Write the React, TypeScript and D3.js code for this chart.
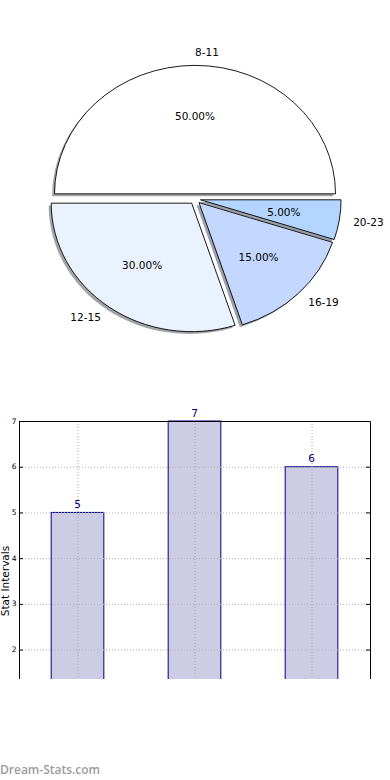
import React, { useEffect, useRef } from 'react';
import * as d3 from 'd3';

const pieLabels = ['8-11', '12-15', '16-19', '20-23'];
const pieValues = [50, 30, 15, 5];
const pieColors = ['#ffffff', '#eaf2ff', '#c4d8ff', '#b3d5ff'];
const pieExplode = [0.04, 0.04, 0.04, 0.04];

const barValues = [5, 7, 6];
const barTicks = [2, 3, 4, 5, 6, 7];

const W = 390;
const H = 780;
const FONT = 'DejaVu Sans, sans-serif';

const App = () => {
  const svgRef = useRef<SVGSVGElement>(null);

  useEffect(() => {
    if (!svgRef.current) return;
    const svg = d3.select(svgRef.current);
    svg.selectAll('*').remove();

    // ---- pie (elliptical, matplotlib style: ccw from 3 o'clock) ----
    const cx = 195, cy = 199, rx = 140.5, ry = 128.5;

    const pie = d3.pie<number>()
      .sort(null)
      .startAngle(Math.PI / 2)
      .endAngle(Math.PI / 2 - 2 * Math.PI);
    const arcs = pie(pieValues);
    const arc = d3.arc<d3.PieArcDatum<number>>().innerRadius(0).outerRadius(1);

    const wedges = arcs.map((a, i) => {
      const theta = Math.PI / 2 - (a.startAngle + a.endAngle) / 2;
      const dx = pieExplode[i] * rx * Math.cos(theta);
      const dy = -pieExplode[i] * ry * Math.sin(theta);
      return { a, i, theta, ox: cx + dx, oy: cy + dy };
    });

    const pieG = svg.append('g');

    // shadows first (below all wedges)
    wedges.forEach(w => {
      const c = d3.rgb(pieColors[w.i]);
      pieG.append('path')
        .attr('d', arc(w.a))
        .attr('transform', `translate(${w.ox - 2.5},${w.oy + 2.3}) scale(${rx},${ry})`)
        .attr('fill', d3.rgb(c.r * 0.3, c.g * 0.3, c.b * 0.3).toString())
        .attr('fill-opacity', 0.5)
        .attr('stroke', 'none');
    });

    wedges.forEach(w => {
      pieG.append('path')
        .attr('d', arc(w.a))
        .attr('transform', `translate(${w.ox},${w.oy}) scale(${rx},${ry})`)
        .attr('fill', pieColors[w.i])
        .attr('stroke', '#000')
        .attr('stroke-width', 0.9)
        .attr('stroke-linejoin', 'round')
        .attr('vector-effect', 'non-scaling-stroke');
    });

    const total = d3.sum(pieValues);
    wedges.forEach(w => {
      const c = Math.cos(w.theta), s = Math.sin(w.theta);
      pieG.append('text')
        .attr('x', w.ox + 1.1 * rx * c)
        .attr('y', w.oy - 1.1 * ry * s)
        .attr('dy', '0.35em')
        .attr('text-anchor', c > -1e-9 ? 'start' : 'end')
        .attr('font-family', FONT)
        .attr('font-size', 10.5)
        .attr('fill', '#000')
        .text(pieLabels[w.i]);
      pieG.append('text')
        .attr('x', w.ox + 0.6 * rx * c)
        .attr('y', w.oy - 0.6 * ry * s)
        .attr('dy', '0.35em')
        .attr('text-anchor', 'middle')
        .attr('font-family', FONT)
        .attr('font-size', 10.5)
        .attr('fill', '#000')
        .text(`${((pieValues[w.i] / total) * 100).toFixed(2)}%`);
    });

    // ---- bar chart ----
    const left = 19, right = 370, top = 421, bottom = 741, clipBottom = 679;
    const x = d3.scaleLinear().domain([-0.5, barValues.length - 0.5]).range([left, right]);
    const y = d3.scaleLinear().domain([0, 7]).range([bottom, top]);
    const barW = x(0.45) - x(0);

    svg.append('defs').append('clipPath')
      .attr('id', 'barclip')
      .append('rect')
      .attr('x', 0).attr('y', 380).attr('width', W).attr('height', clipBottom - 380);

    const g = svg.append('g').attr('clip-path', 'url(#barclip)');

    g.selectAll('rect.bar')
      .data(barValues)
      .join('rect')
      .attr('class', 'bar')
      .attr('x', (_, i) => x(i) - barW / 2)
      .attr('y', d => y(d))
      .attr('width', barW)
      .attr('height', d => y(0) - y(d))
      .attr('fill', '#cccce5')
      .attr('stroke', '#000080')
      .attr('stroke-width', 1);

    // grid
    g.selectAll('line.hgrid')
      .data(barTicks)
      .join('line')
      .attr('x1', left).attr('x2', right)
      .attr('y1', d => y(d) + 0.5).attr('y2', d => y(d) + 0.5)
      .attr('stroke', '#b0b0b0')
      .attr('stroke-width', 1)
      .attr('stroke-dasharray', '1,2');

    g.selectAll('line.vgrid')
      .data(barValues)
      .join('line')
      .attr('x1', (_, i) => x(i) + 0.5).attr('x2', (_, i) => x(i) + 0.5)
      .attr('y1', top).attr('y2', bottom)
      .attr('stroke', '#a8a8a8')
      .attr('stroke-width', 1)
      .attr('stroke-dasharray', '1,2');

    // ticks inside left and right
    barTicks.forEach(t => {
      g.append('line').attr('x1', left).attr('x2', left + 4)
        .attr('y1', y(t) + 0.5).attr('y2', y(t) + 0.5).attr('stroke', '#000');
      g.append('line').attr('x1', right - 4).attr('x2', right)
        .attr('y1', y(t) + 0.5).attr('y2', y(t) + 0.5).attr('stroke', '#000');
    });

    // frame (top, left, right)
    g.append('path')
      .attr('d', `M${left + 0.5},${bottom}V${top + 0.5}H${right + 0.5}V${bottom}`)
      .attr('fill', 'none')
      .attr('stroke', '#000')
      .attr('stroke-width', 1);

    // tick labels
    svg.selectAll('text.ytick')
      .data(barTicks)
      .join('text')
      .attr('class', 'ytick')
      .attr('x', 16.5)
      .attr('y', d => y(d))
      .attr('dy', '0.35em')
      .attr('text-anchor', 'end')
      .attr('font-family', FONT)
      .attr('font-size', 7.5)
      .attr('fill', '#000')
      .text(d => d);

    // value labels
    svg.selectAll('text.val')
      .data(barValues)
      .join('text')
      .attr('class', 'val')
      .attr('x', (_, i) => x(i))
      .attr('y', d => y(d) - 4.5)
      .attr('text-anchor', 'middle')
      .attr('font-family', FONT)
      .attr('font-size', 10.5)
      .attr('fill', '#000080')
      .text(d => d);

    // y label
    svg.append('text')
      .attr('transform', `translate(9,${(top + bottom) / 2}) rotate(-90)`)
      .attr('text-anchor', 'middle')
      .attr('font-family', FONT)
      .attr('font-size', 10.5)
      .attr('fill', '#000')
      .text('Stat Intervals');

    // watermark
    svg.append('text')
      .attr('x', 0)
      .attr('y', 774)
      .attr('font-family', 'Open Sans, sans-serif')
      .attr('font-size', 12)
      .attr('font-weight', 600)
      .attr('fill', '#9c9c9c')
      .text('Dream-Stats.com');
  }, []);

  return (
    <svg
      ref={svgRef}
      width={W}
      height={H}
      style={{ position: 'absolute', left: 0, top: 0, background: '#fff' }}
    />
  );
};

export default App;
